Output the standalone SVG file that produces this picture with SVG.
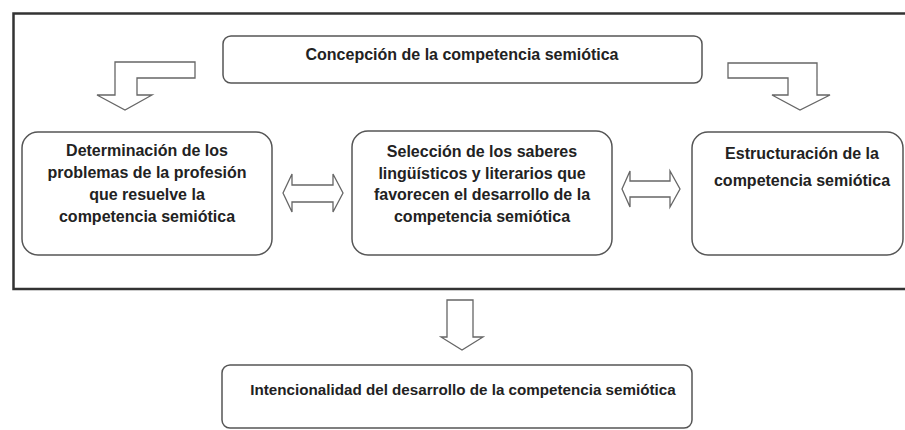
<svg xmlns="http://www.w3.org/2000/svg" width="905" height="430" viewBox="0 0 905 430">
<style>
.node{fill:#fff;stroke:#555;stroke-width:1.5}
.arrow{fill:#fff;stroke:#666;stroke-width:1.3;stroke-linejoin:miter}
text{font-family:"Liberation Sans",Arial,sans-serif;font-weight:bold;font-size:16px;fill:#222;text-anchor:middle}
text.small{font-size:15.2px}
</style>
<rect x="0" y="0" width="905" height="430" fill="#fff"/>
<rect id="frame" x="13.5" y="13.5" width="900" height="275.5" fill="none" stroke="#333" stroke-width="2.5"/>
<g id="n-concepcion">
<rect class="node" x="223" y="36" width="479" height="47" rx="8"/>
<text x="462" y="60">Concepción de la competencia semiótica</text>
</g>
<g id="n-determinacion">
<rect class="node" x="22" y="132" width="250" height="123" rx="16"/>
<text x="147" y="156">Determinación de los</text>
<text x="147" y="178">problemas de la profesión</text>
<text x="147" y="200">que resuelve la</text>
<text x="147" y="222">competencia semiótica</text>
</g>
<g id="n-seleccion">
<rect class="node" x="352" y="131" width="260" height="124" rx="16"/>
<text x="482" y="157">Selección de los saberes</text>
<text x="482" y="179">lingüísticos y literarios que</text>
<text x="482" y="200">favorecen el desarrollo de la</text>
<text x="482" y="222">competencia semiótica</text>
</g>
<g id="n-estructuracion">
<rect class="node" x="692" y="132" width="211" height="123" rx="16"/>
<text x="802" y="159">Estructuración de la</text>
<text x="802" y="186">competencia semiótica</text>
</g>
<g id="n-intencionalidad">
<rect class="node" x="222" y="365" width="470" height="63" rx="8"/>
<text class="small" x="463" y="395">Intencionalidad del desarrollo de la competencia semiótica</text>
</g>
<g id="connectors">
<path class="arrow" d="M195,62 L115,62 L115,95 L97,95 L125,110 L152,95 L137,95 L137,78 L195,78 Z"/>
<path class="arrow" d="M728,63 L817,63 L817,95 L830,95 L800,110 L772,95 L788,95 L788,78 L728,78 Z"/>
<path class="arrow" d="M283,193 L292,174 L292,185 L333,185 L333,174 L343,193 L333,212 L333,202 L292,202 L292,212 Z"/>
<path class="arrow" d="M622,189 L630,171 L630,181 L670,181 L670,171 L680,189 L670,207 L670,197 L630,197 L630,207 Z"/>
<path class="arrow" d="M447,300 L473,300 L473,337 L483,337 L462,350 L441,337 L447,337 Z"/>
</g>
</svg>
